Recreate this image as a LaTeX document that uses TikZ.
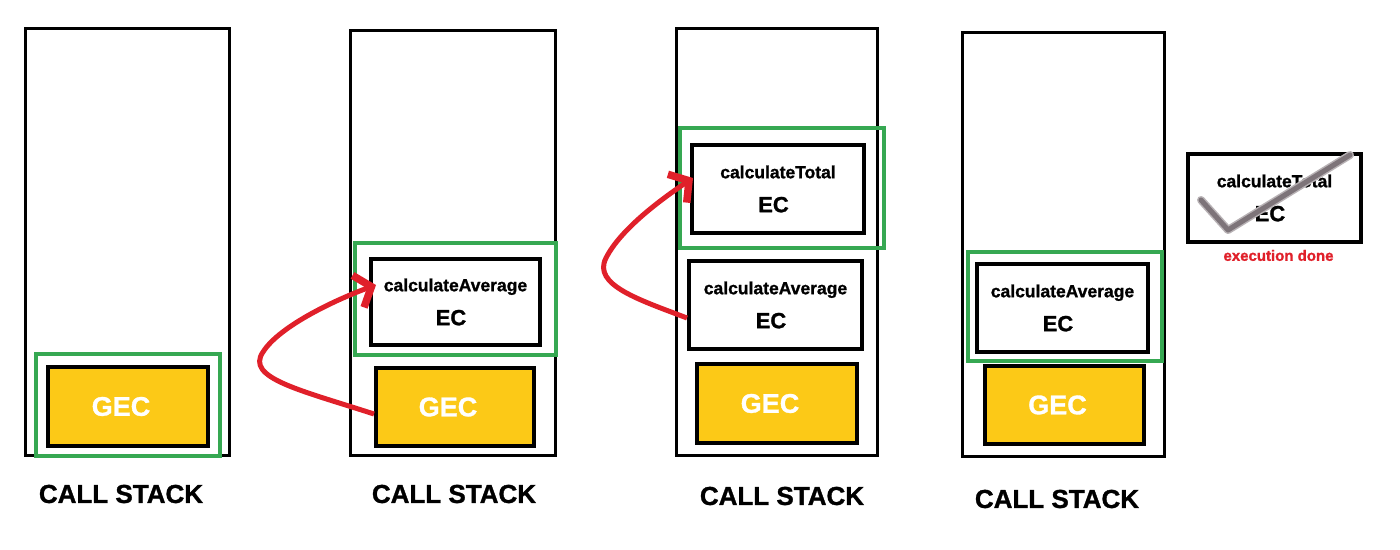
\documentclass[tikz,border=0pt]{standalone}
\usepackage{fontspec}
\setmainfont{Liberation Sans}
\newfontfamily\heavyfont{Liberation Sans}[BoldFeatures={FakeBold=1.2}]
\usetikzlibrary{arrows.meta, positioning}
\definecolor{gecyellow}{HTML}{FCC917}
\definecolor{ecgreen}{HTML}{36A852}
\definecolor{callred}{HTML}{E0202A}
\definecolor{tickgrey}{HTML}{7D7479}
\definecolor{tickedge}{HTML}{B8B2B5}
\tikzset{call/.style={draw=callred, line width=5pt, -{Straight Barb[length=14pt, width=34pt, line width=7.5pt]}}}

\begin{document}
\begin{tikzpicture}[x=1pt, y=-1pt]
% Styles
    \tikzstyle{stack} = [rectangle, draw, line width=3pt, inner sep=0pt]
    \tikzstyle{frame} = [rectangle, draw=ecgreen, line width=3.5pt, inner sep=0pt]
    \tikzstyle{gec} = [rectangle, draw, fill=gecyellow, line width=4pt, inner sep=0pt, text=white, font=\heavyfont\bfseries\fontsize{27}{30}\selectfont]
    \tikzstyle{ec} = [rectangle, draw, fill=white, line width=4pt, inner sep=0pt, align=center, font=\heavyfont\bfseries\fontsize{17.5}{34}\selectfont]
    \tikzstyle{title} = [inner sep=0pt, font=\heavyfont\bfseries\fontsize{26}{30}\selectfont]
    \newcommand{\ecname}[1]{#1\\{\fontsize{22}{34}\selectfont EC\hspace*{9pt}}}
    \newcommand{\gectext}{GEC\hspace*{14pt}}

    \useasboundingbox (0,0) rectangle (1400,549);

    % Pile 1 : GEC seul
    \node [stack, minimum width=204pt, minimum height=427pt] (stack1) at (127,241.5) {};
    \node [frame, minimum width=184pt, minimum height=102pt] (frame1) at (128,405) {};
    \node [gec, minimum width=160pt, minimum height=79pt] (gec1) at (128,406.5) {\gectext};
    \node [title] (title1) at (121,494) {CALL STACK};

    % Pile 2 : calculateAverage
    \node [stack, minimum width=205pt, minimum height=425pt] (stack2) at (452.5,242.5) {};
    \node [frame, minimum width=201pt, minimum height=112pt] (frame2) at (455.5,299) {};
    \node [ec, minimum width=169pt, minimum height=86pt] (avg2) at (455.5,302) {\ecname{calculateAverage}};
    \node [gec, minimum width=158pt, minimum height=78pt] (gec2) at (455,407) {\gectext};
    \node [title] (title2) at (454,494) {CALL STACK};

    % Pile 3 : calculateTotal
    \node [stack, minimum width=201pt, minimum height=427pt] (stack3) at (776.5,241.5) {};
    \node [frame, minimum width=204pt, minimum height=120pt] (frame3) at (782,188) {};
    \node [ec, minimum width=172pt, minimum height=88pt] (tot3) at (778,189) {\ecname{calculateTotal}};
    \node [ec, minimum width=173pt, minimum height=88pt] (avg3) at (775.5,305) {\ecname{calculateAverage}};
    \node [gec, minimum width=160pt, minimum height=79pt] (gec3) at (777,403.5) {\gectext};
    \node [title] (title3) at (782,496) {CALL STACK};

    % Pile 4 : calculateTotal terminé
    \node [stack, minimum width=202pt, minimum height=424pt] (stack4) at (1063,244) {};
    \node [frame, minimum width=194pt, minimum height=109pt] (frame4) at (1065,306.5) {};
    \node [ec, minimum width=171pt, minimum height=88pt] (avg4) at (1062.5,308) {\ecname{calculateAverage}};
    \node [gec, minimum width=159pt, minimum height=78pt] (gec4) at (1064.5,405) {\gectext};
    \node [title] (title4) at (1057,499) {CALL STACK};

    % Contexte sorti de la pile
    \node [ec, line width=3.5pt, minimum width=173pt, minimum height=88pt] (done) at (1274.5,198) {\ecname{calculateTotal}};
    \node [below=6pt of done, xshift=4pt, inner sep=0pt, text=callred, font=\heavyfont\bfseries\fontsize{15}{18}\selectfont] (donelabel) {execution done};
    \draw [tickedge, line width=8pt, line cap=round, line join=round] (1201,200) -- (1228,230) -- (1350,155);
    \draw [tickgrey, line width=5pt, line cap=round, line join=round] (1201,200) -- (1228,230) -- (1350,155);

    % Appels
    \draw [call] ([yshift=-7pt]gec2.west) .. controls (300,390) and (245,378) .. (263,352)
        .. controls (280,325) and (340,298) .. ([xshift=7pt, yshift=17pt]avg2.west);
    \draw [call] ([yshift=-13pt]avg3.west) .. controls (640,300) and (592,285) .. (606,258)
        .. controls (620,230) and (660,200) .. ([xshift=3pt, yshift=11pt]tot3.west);
\end{tikzpicture}
\end{document}
